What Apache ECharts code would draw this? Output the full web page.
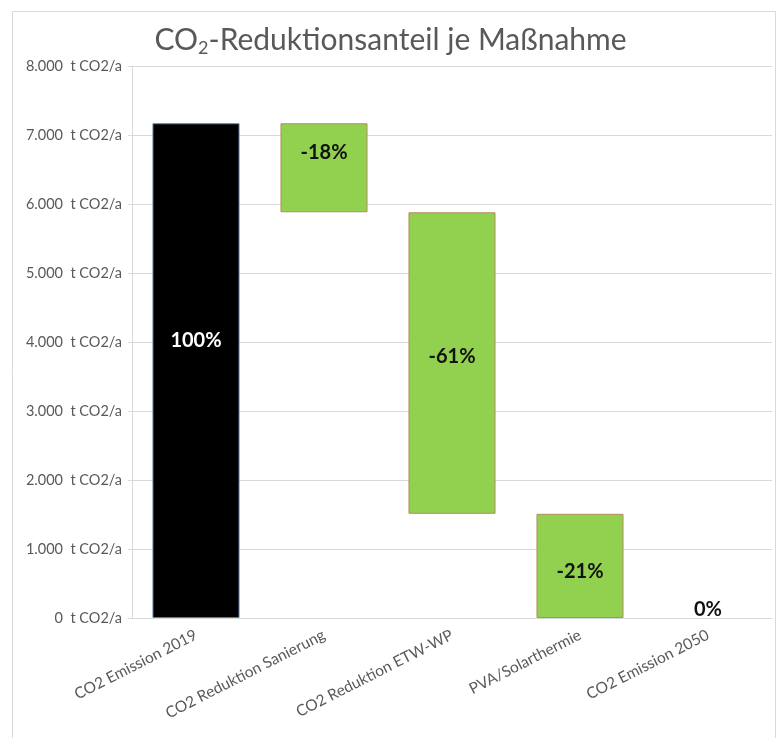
<!DOCTYPE html>
<html>
<head>
<meta charset="utf-8">
<script src="https://cdn.jsdelivr.net/npm/echarts@6/dist/echarts.min.js"></script>
<style>
html,body{margin:0;padding:0;background:#fff;}
#chart{width:781px;height:738px;}
</style>
</head>
<body>
<div id="chart"></div>
<script>
const categories = ['CO2 Emission 2019', 'CO2 Reduktion Sanierung', 'CO2 Reduktion ETW-WP', 'PVA/Solarthermie', 'CO2 Emission 2050'];
const barBottom = [0, 5880, 1510, 0, 0];
const barTop = [7170, 7170, 5880, 1510, 0];
const percentLabels = ['100%', '-18%', '-61%', '-21%', '0%'];
const yTicks = [0, 1000, 2000, 3000, 4000, 5000, 6000, 7000, 8000];

const FONT = 'Lato, "Open Sans", sans-serif';
const labelOffsets = [[0, -30], [0, -15], [0, -6], [0, 6], [0, 4]];
const chart = echarts.init(document.getElementById('chart'));

const visible = barTop.map((t, i) => {
  const v = t - barBottom[i];
  const isFirst = i === 0;
  const isZero = v === 0;
  return {
    value: v,
    itemStyle: isFirst
      ? { color: '#000000', borderColor: '#5B7FA6', borderWidth: 1 }
      : (isZero ? { color: 'transparent', borderWidth: 0 }
                : { color: '#92D050', borderColor: '#B58B5E', borderWidth: 1 }),
    label: {
      show: true,
      formatter: percentLabels[i],
      position: isZero ? 'top' : 'inside',
      distance: 2,
      offset: labelOffsets[i],
      color: isFirst ? '#ffffff' : '#111111',
      fontWeight: 'bold',
      fontSize: 20,
      fontFamily: FONT
    }
  };
});

chart.setOption({
  backgroundColor: '#ffffff',
  animation: false,
  graphic: [{
    type: 'rect',
    shape: { x: 12.5, y: 11.5, width: 763, height: 760 },
    style: { fill: 'none', stroke: '#D9D9D9', lineWidth: 1 },
    silent: true, z: -1
  }],
  title: {
    text: 'CO{sub|2}-Reduktionsanteil je Maßnahme',
    left: 'center',
    top: 18,
    textStyle: {
      fontFamily: FONT,
      fontSize: 30,
      fontWeight: 'normal',
      color: '#595959',
      rich: {
        sub: { fontFamily: FONT, fontSize: 18, color: '#595959', verticalAlign: 'bottom', padding: [16, 0, 0, 0] }
      }
    }
  },
  grid: { left: 132, right: 9, top: 66, bottom: 120, containLabel: false },
  xAxis: {
    type: 'category',
    data: categories,
    axisLine: { show: true, lineStyle: { color: '#D9D9D9' } },
    axisTick: { show: false },
    axisLabel: {
      interval: 0,
      rotate: 27,
      margin: 16,
      color: '#595959',
      fontSize: 15.5,
      fontFamily: FONT
    }
  },
  yAxis: {
    type: 'value',
    min: yTicks[0],
    max: yTicks[yTicks.length - 1],
    interval: 1000,
    axisLine: { show: true, lineStyle: { color: '#D9D9D9' } },
    axisTick: { show: true, length: 4, lineStyle: { color: '#D9D9D9' } },
    splitLine: { lineStyle: { color: '#D9D9D9' } },
    axisLabel: {
      margin: 10,
      color: '#595959',
      fontSize: 14.5,
      fontFamily: FONT,
      formatter: v => (v === 0 ? '0' : (v / 1000).toFixed(3)) + '  t CO2/a'
    }
  },
  series: [
    {
      type: 'bar',
      stack: 'w',
      data: barBottom,
      itemStyle: { color: 'transparent', borderColor: 'transparent' },
      silent: true,
      barWidth: '68%'
    },
    {
      type: 'bar',
      stack: 'w',
      data: visible,
      barWidth: '68%'
    }
  ]
});
</script>
</body>
</html>
